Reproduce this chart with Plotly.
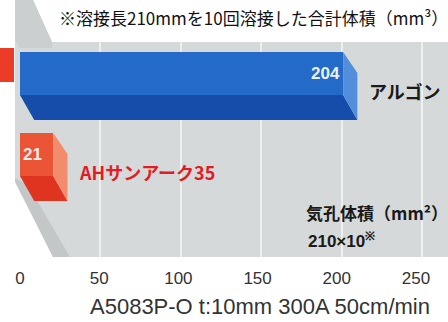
import plotly.graph_objects as go

# ---------------- data ----------------
categories = ["アルゴン", "AHサンアーク35"]
values = [204, 21]
value_labels = ["204", "21"]
tick_values = [0, 50, 100, 150, 200, 250]
tick_labels = ["0", "50", "100", "150", "200", "250"]
note_text = "※溶接長210mmを10回溶接した合計体積（mm³）"
unit_lines = ["気孔体積（mm²）", "210×10<sup>※</sup>"]
axis_title = "A5083P-O t:10mm 300A 50cm/min"

# ---------------- styling ----------------
W, H = 448, 322
M_T, M_B = 42, 65
PLOT_H = H - M_T - M_B
X_RANGE = [-12.6, 270.2]
Y_RANGE = [2.099, -0.556]          # reversed: first category on top

FRONT = ["rgb(36,106,200)", "rgb(236,84,54)"]
SIDE = ["rgb(82,142,218)", "rgb(242,140,108)"]
BOTTOM = ["rgb(22,76,170)", "rgb(222,52,32)"]
LABEL_COL = ["#1a1a1a", "rgb(226,28,38)"]
ANCHOR = ["end", "start"]

OFF, WF = -0.432, 0.531            # front face offset / thickness (category units)
DEPTH = 0.309                      # bottom face thickness
SIDE_DROP = 0.26
DX = 9                             # 3-D shift in value units
PERSPECTIVE = 1.015                # back-wall grid is slightly stretched

PANEL = "rgb(214,217,217)"
JP = "Noto Sans CJK JP"
LAT = "Liberation Sans, Arial, sans-serif"


def p(x, y):
    """pixel -> paper coords"""
    return x / W, (H - M_B - y) / PLOT_H


def path(points):
    s = ""
    for k, (x, y) in enumerate(points):
        px_, py_ = p(x, y)
        s += ("M" if k == 0 else "L") + f"{px_:.4f},{py_:.4f} "
    return s + "Z"


fig = go.Figure()

# front faces (real bars)
for i, (cat, v) in enumerate(zip(categories, values)):
    fig.add_trace(go.Bar(
        y=[i], x=[v], orientation="h", base=0, offset=OFF, width=WF,
        marker=dict(color=FRONT[i], line=dict(width=0)),
        text=[value_labels[i]], textposition="inside",
        insidetextanchor=ANCHOR[i], textangle=0,
        textfont=dict(color="rgba(255,255,255,0.92)", size=17, family=LAT, weight="bold"),
        showlegend=False, hoverinfo="skip", name=cat,
    ))

# 3-D faces, computed from the values
for i, v in enumerate(values):
    top = i + OFF
    bot = i + OFF + WF
    low = bot + DEPTH
    fig.add_trace(go.Scatter(
        x=[0, v, v + DX, DX, 0], y=[bot, bot, low, low, bot],
        fill="toself", fillcolor=BOTTOM[i], mode="lines",
        line=dict(width=0, color=BOTTOM[i]), showlegend=False, hoverinfo="skip"))
    fig.add_trace(go.Scatter(
        x=[v, v + DX, v + DX, v, v], y=[top, top + SIDE_DROP, low, bot, top],
        fill="toself", fillcolor=SIDE[i], mode="lines",
        line=dict(width=0, color=SIDE[i]), showlegend=False, hoverinfo="skip"))

# category labels next to bars
for i, (cat, v) in enumerate(zip(categories, values)):
    fig.add_annotation(x=v + 15, y=i + 0.05, xref="x", yref="y", text=f"<b>{cat}</b>",
                       showarrow=False, xanchor="left", yanchor="middle",
                       font=dict(family=JP, size=18, color=LABEL_COL[i]))

# note and unit texts
nx, ny = p(57, 18)
fig.add_annotation(x=nx, y=ny, xref="paper", yref="paper", text=note_text,
                   showarrow=False, xanchor="left", yanchor="middle",
                   font=dict(family=JP, size=17, color="#111"))
ux, uy = p(304, 212)
fig.add_annotation(x=ux, y=uy, xref="paper", yref="paper", text=unit_lines[0],
                   showarrow=False, xanchor="left", yanchor="middle",
                   font=dict(family=JP, size=17, color="#1a1a1a", weight="bold"))
ux, uy = p(306, 240)
fig.add_annotation(x=ux, y=uy, xref="paper", yref="paper", text=unit_lines[1],
                   showarrow=False, xanchor="left", yanchor="middle",
                   font=dict(family=LAT, size=17, color="#1a1a1a", weight="bold"))

# axis title (set slightly right of centre, as in the original)
tx, ty = p(260, 306)
fig.add_annotation(x=tx, y=ty, xref="paper", yref="paper", text=axis_title,
                   showarrow=False, xanchor="center", yanchor="middle",
                   font=dict(family=LAT, size=22, color="#333"))

# background panel & decorations
shapes = [
    dict(type="path", xref="paper", yref="paper", layer="below",
         path=path([(15, 0), (33, 0), (52, 42), (448, 42), (448, 257), (53, 257), (15, 180)]),
         fillcolor=PANEL, line=dict(width=0)),
    dict(type="path", xref="paper", yref="paper", layer="below",
         path=path([(15, 0), (33, 0), (52, 42), (52, 48), (20, 48), (15, 40)]),
         fillcolor="rgb(204,207,208)", line=dict(width=0)),
    dict(type="path", xref="paper", yref="paper", layer="below",
         path=path([(15, 178), (28, 185), (70, 257), (53, 257), (15, 182)]),
         fillcolor="rgb(196,199,200)", line=dict(width=0)),
    dict(type="rect", xref="paper", yref="paper", layer="above",
         x0=p(0, 48)[0], y0=p(0, 48)[1], x1=p(14, 82)[0], y1=p(14, 82)[1],
         fillcolor="rgb(234,60,38)", line=dict(width=0)),
]

fig.update_layout(
    width=W, height=H,
    margin=dict(l=0, r=0, t=M_T, b=M_B, pad=0),
    paper_bgcolor="white", plot_bgcolor="rgba(0,0,0,0)",
    barmode="overlay", bargap=0,
    shapes=shapes,
    xaxis=dict(
        range=X_RANGE, tickmode="array", tickvals=tick_values, ticktext=tick_labels,
        showgrid=False, zeroline=False, showline=False, ticks="",
        ticklabelstandoff=9, automargin=False,
        tickfont=dict(family=LAT, size=17, color="#333"),
        minor=dict(tickmode="array", tickvals=[t * PERSPECTIVE for t in tick_values[1:]],
                   showgrid=True, gridcolor="rgb(238,240,240)", gridwidth=2, ticks=""),
        fixedrange=True,
    ),
    yaxis=dict(range=Y_RANGE, showticklabels=False, showgrid=False, zeroline=False,
               showline=False, ticks="", automargin=False, fixedrange=True),
)

fig.write_html("out.html")
